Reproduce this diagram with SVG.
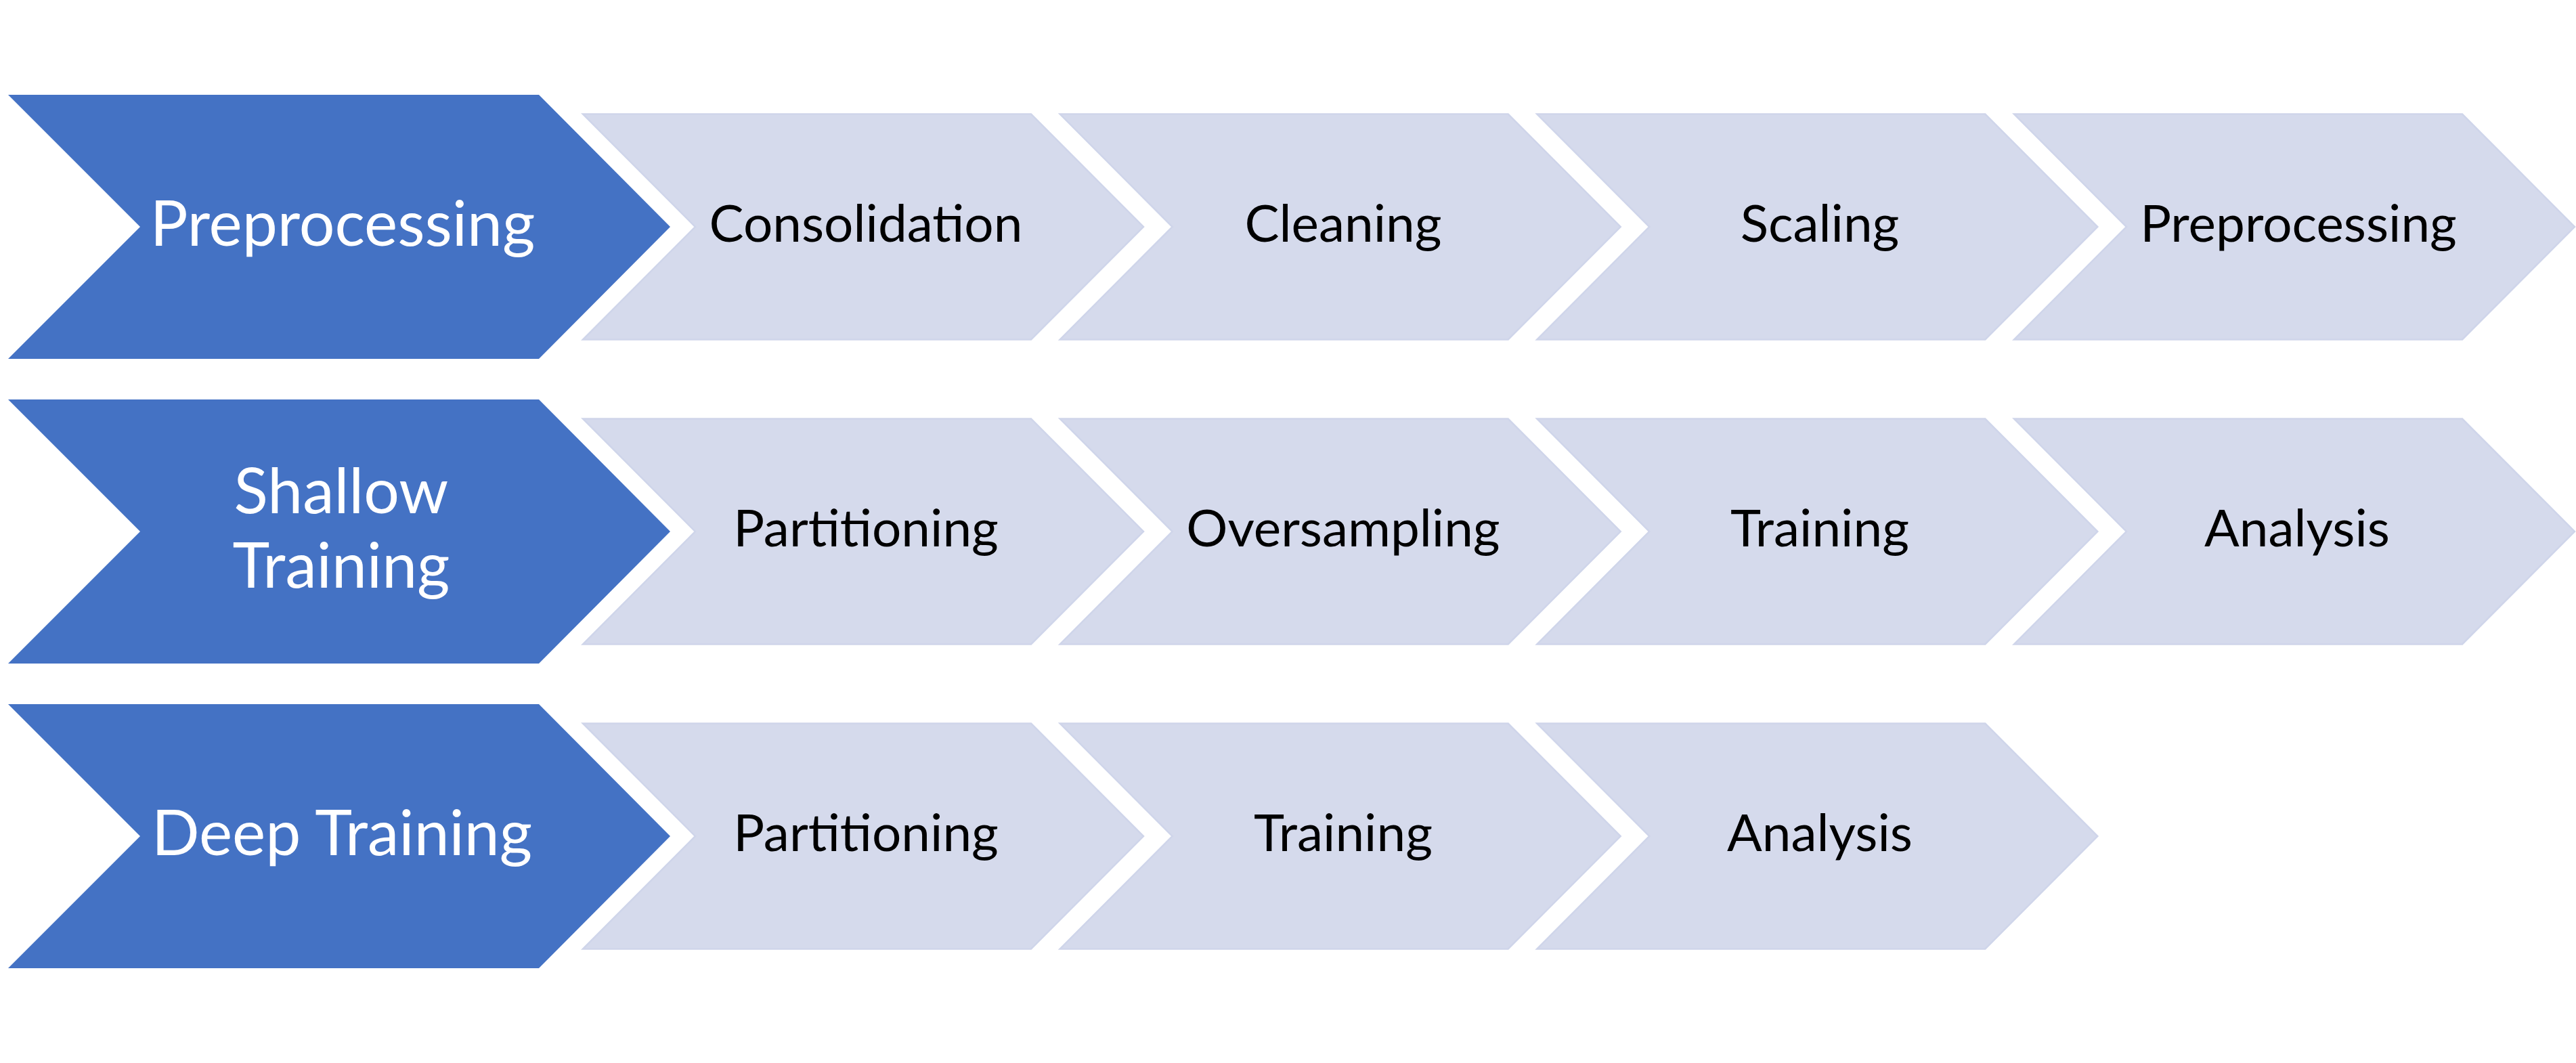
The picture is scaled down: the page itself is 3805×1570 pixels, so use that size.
<svg xmlns="http://www.w3.org/2000/svg" width="3805" height="1570" viewBox="0 0 3805 1570">
<style>
.dark{fill:#4472C4;}
.light{fill:#D5DAEC;stroke:#CFD5EA;stroke-width:2.5;}
.wt{font-family:Lato,"Open Sans",sans-serif;font-size:93px;fill:#FFFFFF;text-anchor:middle;}
.bt{font-family:Lato,"Open Sans",sans-serif;font-size:76.5px;fill:#000000;text-anchor:middle;}
</style>
<rect width="3805" height="1570" fill="#FFFFFF"/>
<defs>
<polygon id="dk" points="12,140 796,140 990,335 796,530 12,530 207,335"/>
<polygon id="lt" points="0,168.5 662,168.5 828,335 662,501.5 0,501.5 166,335"/>
</defs>
<g id="connectors"></g>
<!-- Row 1 -->
<g id="n-preprocessing-main"><use href="#dk" class="dark"/><text class="wt" x="506" y="363">Preprocessing</text></g>
<g id="n-consolidation"><use href="#lt" class="light" x="861"/><text class="bt" x="1279" y="357">Consolidation</text></g>
<g id="n-cleaning"><use href="#lt" class="light" x="1565.7"/><text class="bt" x="1984" y="357">Cleaning</text></g>
<g id="n-scaling"><use href="#lt" class="light" x="2270.3"/><text class="bt" x="2688" y="357">Scaling</text></g>
<g id="n-preprocessing"><use href="#lt" class="light" x="2975"/><text class="bt" x="3395" y="357">Preprocessing</text></g>
<!-- Row 2 -->
<g id="n-shallow-training"><use href="#dk" class="dark" y="450"/><text class="wt" x="504" y="758">Shallow</text><text class="wt" x="504" y="868">Training</text></g>
<g id="n-partitioning-1"><use href="#lt" class="light" x="861" y="450"/><text class="bt" x="1279" y="807">Partitioning</text></g>
<g id="n-oversampling"><use href="#lt" class="light" x="1565.7" y="450"/><text class="bt" x="1984" y="807">Oversampling</text></g>
<g id="n-training-1"><use href="#lt" class="light" x="2270.3" y="450"/><text class="bt" x="2688" y="807">Training</text></g>
<g id="n-analysis-1"><use href="#lt" class="light" x="2975" y="450"/><text class="bt" x="3393" y="807">Analysis</text></g>
<!-- Row 3 -->
<g id="n-deep-training"><use href="#dk" class="dark" y="900"/><text class="wt" x="505" y="1263">Deep Training</text></g>
<g id="n-partitioning-2"><use href="#lt" class="light" x="861" y="900"/><text class="bt" x="1279" y="1257">Partitioning</text></g>
<g id="n-training-2"><use href="#lt" class="light" x="1565.7" y="900"/><text class="bt" x="1984" y="1257">Training</text></g>
<g id="n-analysis-2"><use href="#lt" class="light" x="2270.3" y="900"/><text class="bt" x="2688" y="1257">Analysis</text></g>
</svg>
